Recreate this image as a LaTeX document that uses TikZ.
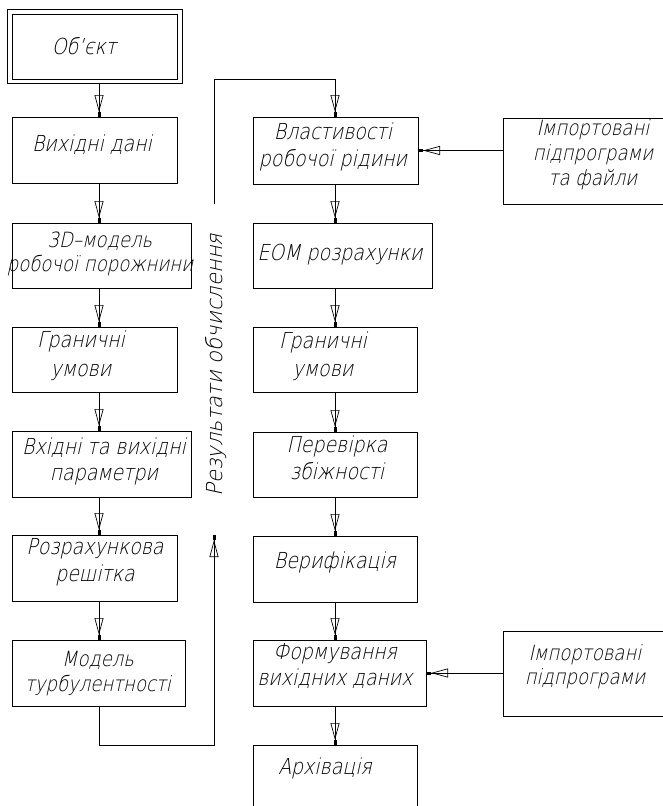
\documentclass[tikz,border=0pt]{standalone}
\usepackage{fontspec}
\newfontfamily\gost{DejaVu Sans ExtraLight}[FakeSlant=0.22,FakeStretch=0.86]
\newfontfamily\gostwide{DejaVu Sans ExtraLight}[FakeSlant=0.22,FakeStretch=0.96]
\usetikzlibrary{arrows.meta}

\begin{document}
\begin{tikzpicture}[x=1pt,y=-1pt,
  box/.style={draw,line width=1pt,rectangle,inner sep=0pt,outer sep=0pt,anchor=north west},
  lbl/.style={font=\gost\fontsize{22}{26}\selectfont,align=center,inner sep=0pt},
  flow/.style={line width=0.9pt,
    postaction={draw,line width=0.9pt,
      -{Triangle[open,length=17pt,width=9pt,line width=0.7pt] Rectangle[length=5pt,width=3pt]}}}]

\useasboundingbox (0,0) rectangle (663,806);
\clip (0,0) rectangle (663,806);

% column axes
\coordinate (cl) at (99,0);
\coordinate (cr) at (335,0);

% ---- left column ----
\node[box,minimum width=175,minimum height=74] (obj) at (7,9) {};
\node[box,minimum width=165,minimum height=65] (objin) at (12,14) {};
\node[lbl] (tobj) at (84,46) {Об’єкт};

\node[box,minimum width=165,minimum height=66] (vyh) at (12,117) {};
\node[lbl] (tvyh) at (92,145) {Вихідні дані};

\node[box,minimum width=179,minimum height=65] (mod3d) at (12,223) {};
\node[lbl,font=\gost\fontsize{21}{24}\selectfont] (tmod3d) at (100,254) {3D–модель\\робочої порожнини};

\node[box,minimum width=165,minimum height=65] (granl) at (12,327) {};
\node[lbl,font=\gost\fontsize{22}{29}\selectfont] (tgranl) at (81,356) {Граничні\\умови};

\node[box,minimum width=179,minimum height=66] (vhid) at (12,431) {};
\node[lbl] (tvhid) at (104,461) {Вхідні та вихідні\\параметри};

\node[box,minimum width=165,minimum height=66] (rozr) at (12,535) {};
\node[lbl,font=\gost\fontsize{22}{27}\selectfont] (trozr) at (95,562) {Розрахункова\\решітка};

\node[box,minimum width=173,minimum height=66] (turb) at (12,640) {};
\node[lbl,font=\gost\fontsize{21}{25}\selectfont] (tturb) at (98,674) {Модель\\турбулентності};

\node[lbl,font=\gostwide\fontsize{22}{26}\selectfont,rotate=90] (res) at (216,365) {Результати обчислення};

% ---- right column ----
\node[box,minimum width=165,minimum height=67] (vlast) at (253,117) {};
\node[lbl,font=\gost\fontsize{22}{27}\selectfont] (tvlast) at (333,147) {Властивості\\робочої рідини};

\node[box,minimum width=180,minimum height=86] (imp1) at (503,118) {};
\node[lbl,font=\gost\fontsize{21}{25}\selectfont] (timp1) at (593,155) {Імпортовані\\підпрограми\\та файли};

\node[box,minimum width=179,minimum height=65] (eom) at (253,223) {};
\node[lbl] (teom) at (340,255) {ЕОМ розрахунки};

\node[box,minimum width=164,minimum height=65] (granr) at (253,327) {};
\node[lbl,font=\gost\fontsize{22}{28}\selectfont] (tgranr) at (323,356) {Граничні\\умови};

\node[box,minimum width=164,minimum height=65] (perev) at (253,432) {};
\node[lbl,font=\gost\fontsize{22}{27}\selectfont] (tperev) at (337,458) {Перевірка\\збіжності};

\node[box,minimum width=164,minimum height=66] (verif) at (253,536) {};
\node[lbl] (tverif) at (335,562) {Верифікація};

\node[box,minimum width=173,minimum height=66] (form) at (253,640) {};
\node[lbl] (tform) at (335,666) {Формування\\вихідних даних};

\node[box,minimum width=180,minimum height=85] (imp2) at (503,631) {};
\node[lbl,font=\gost\fontsize{21}{24}\selectfont] (timp2) at (585,667) {Імпортовані\\підпрограми};

\node[box,minimum width=164,minimum height=75] (arch) at (253,745) {};
\node[lbl] (tarch) at (325,768) {Архівація};

% ---- connectors, left column ----
\draw[flow] (obj.south -| cl) -- (vyh.north -| cl);
\draw[flow] (vyh.south -| cl) -- (mod3d.north -| cl);
\draw[flow] (mod3d.south -| cl) -- (granl.north -| cl);
\draw[flow] (granl.south -| cl) -- (vhid.north -| cl);
\draw[flow] (vhid.south -| cl) -- (rozr.north -| cl);
\draw[flow] (rozr.south -| cl) -- (turb.north -| cl);

% results fed back upward, then over to the right column
\coordinate (fbcorner) at (214,745);
\coordinate (fbtip) at (214,535);
\draw[flow] (turb.south -| cl) |- (fbcorner) -- (fbtip);
\coordinate (rtstart) at (214,204);
\coordinate (rttop) at (214,79);
\draw[flow] (rtstart) -- (rttop) -| (vlast.north -| cr);

% ---- connectors, right column ----
\draw[flow] (vlast.south -| cr) -- (eom.north -| cr);
\draw[flow] (eom.south -| cr) -- (granr.north -| cr);
\draw[flow] (granr.south -| cr) -- (perev.north -| cr);
\draw[flow] (perev.south -| cr) -- (verif.north -| cr);
\draw[flow] (verif.south -| cr) -- (form.north -| cr);
\draw[flow] (form.south -| cr) -- (arch.north -| cr);

% imported routines
\draw[flow] (vlast.east -| imp1.west) -- (vlast.east);
\draw[flow] (form.east -| imp2.west) -- (form.east);
\end{tikzpicture}
\end{document}
